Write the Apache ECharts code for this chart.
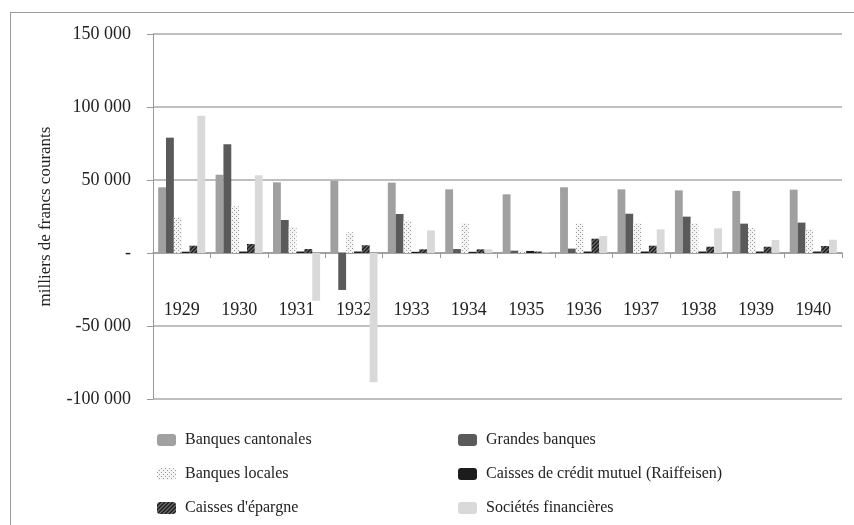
<!DOCTYPE html>
<html>
<head>
<meta charset="utf-8">
<script src="https://cdn.jsdelivr.net/npm/echarts@6/dist/echarts.min.js"></script>
<style>
html, body { margin: 0; padding: 0; background: #fff; }
#frame {
	position: absolute; left: 10px; top: 12px; width: 860px; height: 530px;
	border-top: 1px solid #999; border-left: 1px solid #999;
}
#chart { position: absolute; left: 0; top: 0; width: 854px; height: 525px; }
</style>
</head>
<body>
<div id="frame"></div>
<div id="chart"></div>
<script>
var years = ['1929','1930','1931','1932','1933','1934','1935','1936','1937','1938','1939','1940'];
var cantonales = [45000, 53600, 48400, 49500, 48200, 43600, 40200, 45000, 43600, 42900, 42500, 43400];
var grandes = [79000, 74500, 22600, -25300, 26700, 2700, 1600, 3000, 26900, 24900, 20100, 20800];
var locales = [24500, 32000, 17800, 14200, 22100, 20300, 1500, 20300, 20500, 20300, 17100, 16200];
var raiffeisen = [900, 1000, 1000, 1000, 800, 800, 1400, 1000, 1000, 1000, 1000, 1000];
var epargne = [5000, 6200, 2700, 5300, 2500, 2500, 1000, 9800, 5000, 4300, 4300, 4800];
var societes = [94000, 53200, -32700, -88600, 15500, 2500, 500, 11600, 16200, 16900, 8900, 9100];
var yTicks = [-100000, -50000, 0, 50000, 100000, 150000];

function makePattern(kind) {
	var c = document.createElement('canvas');
	var ctx = c.getContext('2d');
	if (kind == 'dots') {
		c.width = 4; c.height = 4;
		ctx.fillStyle = '#f4f4f4';
		ctx.fillRect(0, 0, 4, 4);
		ctx.fillStyle = '#9a9a9a';
		ctx.fillRect(0, 0, 1, 1);
		ctx.fillRect(2, 2, 1, 1);
	} else {
		c.width = 4; c.height = 4;
		ctx.fillStyle = '#6a6a6a';
		ctx.fillRect(0, 0, 4, 4);
		ctx.strokeStyle = '#1a1a1a';
		ctx.lineWidth = 1.4;
		ctx.beginPath();
		ctx.moveTo(-1, 5); ctx.lineTo(5, -1);
		ctx.moveTo(-1, 1); ctx.lineTo(1, -1);
		ctx.moveTo(3, 5); ctx.lineTo(5, 3);
		ctx.stroke();
	}
	return { image: c, repeat: 'repeat' };
}

var font = '"Liberation Serif", "DejaVu Serif", serif';

function fmt(v) {
	if (v == 0) return '-';
	var s = String(Math.abs(v)).replace(/\B(?=(\d{3})+(?!\d))/g, ' ');
	return (v < 0 ? '-' : '') + s;
}

function bar(name, data, color) {
	return {
		name: name,
		type: 'bar',
		data: data,
		barGap: '0%',
		barCategoryGap: '18%',
		itemStyle: { color: color }
	};
}

var myChart = echarts.init(document.getElementById('chart'));
var legendText = { fontFamily: font, fontSize: 16, color: '#222', padding: [0, 0, 0, 4] };
var option = {
	animation: false,
	textStyle: { fontFamily: font },
	grid: { left: 153, top: 34, right: 12, bottom: 126 },
	legend: [
		{
			orient: 'vertical', left: 152, top: 427,
			itemWidth: 19, itemHeight: 12, itemGap: 18,
			textStyle: legendText,
			data: ['Banques cantonales', 'Banques locales', "Caisses d'épargne"]
		},
		{
			orient: 'vertical', left: 453, top: 427,
			itemWidth: 19, itemHeight: 12, itemGap: 18,
			textStyle: legendText,
			data: ['Grandes banques', 'Caisses de crédit mutuel (Raiffeisen)', 'Sociétés financières']
		}
	],
	xAxis: {
		type: 'category',
		data: years,
		axisLine: { onZero: true, lineStyle: { color: '#999', width: 1.5 } },
		axisTick: { show: true, length: 5, lineStyle: { color: '#999' } },
		axisLabel: { margin: -98, fontSize: 18, color: '#222', fontFamily: font }
	},
	yAxis: {
		type: 'value',
		min: yTicks[0],
		max: yTicks[yTicks.length - 1],
		interval: 50000,
		name: 'milliers de francs courants',
		nameLocation: 'middle',
		nameGap: 99,
		nameTextStyle: { fontSize: 17, color: '#222', fontFamily: font },
		axisLine: { show: true, lineStyle: { color: '#999' } },
		axisTick: { show: true, length: 6, lineStyle: { color: '#999' } },
		axisLabel: { margin: 22, fontSize: 18, color: '#222', fontFamily: font, formatter: fmt },
		splitLine: { lineStyle: { color: '#aaa', width: 1.5 } }
	},
	series: [
		bar('Banques cantonales', cantonales, '#a0a0a0'),
		bar('Grandes banques', grandes, '#5a5a5a'),
		bar('Banques locales', locales, makePattern('dots')),
		bar('Caisses de crédit mutuel (Raiffeisen)', raiffeisen, '#1c1c1c'),
		bar("Caisses d'épargne", epargne, makePattern('hatch')),
		bar('Sociétés financières', societes, '#d9d9d9')
	]
};
myChart.setOption(option);
</script>
</body>
</html>
